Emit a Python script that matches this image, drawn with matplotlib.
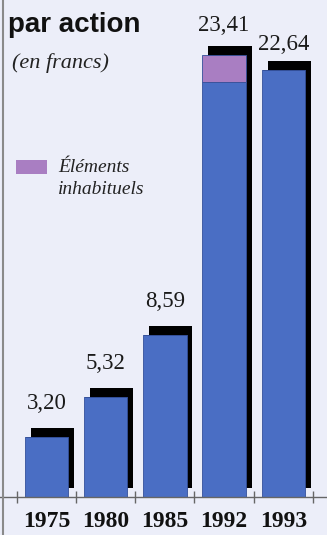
import matplotlib
matplotlib.use("Agg")
import matplotlib.pyplot as plt
from matplotlib.patches import Rectangle
from matplotlib.lines import Line2D

years = ["1975", "1980", "1985", "1992", "1993"]
totals = [3.20, 5.32, 8.59, 23.41, 22.64]
unusual = [0.0, 0.0, 0.0, 1.38, 0.0]
labels = ["3,20", "5,32", "8,59", "23,41", "22,64"]

BG = "#eceef9"
BLUE = "#4a6ec4"
PURPLE = "#a97ec2"

fig = plt.figure(figsize=(3.27, 5.35), dpi=100, facecolor=BG)
ax = fig.add_axes([0, 38/535, 1, 497/535], facecolor=BG)
ax.set_xlim(-0.785, 4.738)
ax.set_ylim(0, 497/18.86)

x = list(range(len(years)))
w = 0.73
dx, dy = 0.1, 0.48
usual = [t - u for t, u in zip(totals, unusual)]

# shadows
ax.bar([i + dx for i in x], totals, width=w, bottom=dy, color="black", zorder=1)
# front bars
ax.bar(x, usual, width=w, color=BLUE, edgecolor="#34509a", linewidth=0.6, zorder=2)
ax.bar(x, unusual, width=w, bottom=usual, color=PURPLE, edgecolor="#34509a", linewidth=0.6, zorder=2)

label_gap = [13.5, 13.5, 13.5, 11.0, 8.0]
for i, (t, lab) in enumerate(zip(totals, labels)):
    ax.annotate(lab, (i, t + dy), xytext=(0, label_gap[i]), textcoords="offset points",
                ha="center", va="baseline", fontsize=16.5, family="Liberation Serif",
                color="#1a1a1a")

for s in ["top", "right", "left"]:
    ax.spines[s].set_visible(False)
ax.spines["bottom"].set_color("#666666")
ax.spines["bottom"].set_linewidth(1.0)
ax.set_yticks([])
ax.set_xticks(x)
ax.set_xticklabels(years, fontsize=17, fontweight="bold", family="Liberation Serif", color="#111111")
ax.tick_params(axis="x", which="major", length=0, pad=10)
ax.set_xticks([i - 0.5 for i in range(len(years) + 1)], minor=True)
ax.tick_params(axis="x", which="minor", length=9, direction="inout", color="#666666", width=1.0)

fig.text(8/327, 1 - 25/535, "par action", fontsize=20, fontweight="bold",
         family="Liberation Sans", va="center", ha="left", color="#111111")
fig.text(12/327, 1 - 63/535, "(en francs)", fontsize=16, style="italic",
         family="Liberation Serif", va="center", ha="left", color="#222222")

fig.patches.append(Rectangle((16/327, 1 - 174/535), 31/327, 14/535, transform=fig.transFigure,
                             facecolor=PURPLE, edgecolor="none"))
fig.text(58/327, 1 - 167/535, "Éléments", fontsize=14, style="italic",
         family="Liberation Serif", va="center", ha="left", color="#222222")
fig.text(58/327, 1 - 189/535, "inhabituels", fontsize=14, style="italic",
         family="Liberation Serif", va="center", ha="left", color="#222222")

fig.lines.append(Line2D([2.5/327, 2.5/327], [0, 1], transform=fig.transFigure,
                        color="#8a8a8a", linewidth=1.5))

fig.savefig("out.png", dpi=100, facecolor=BG)
